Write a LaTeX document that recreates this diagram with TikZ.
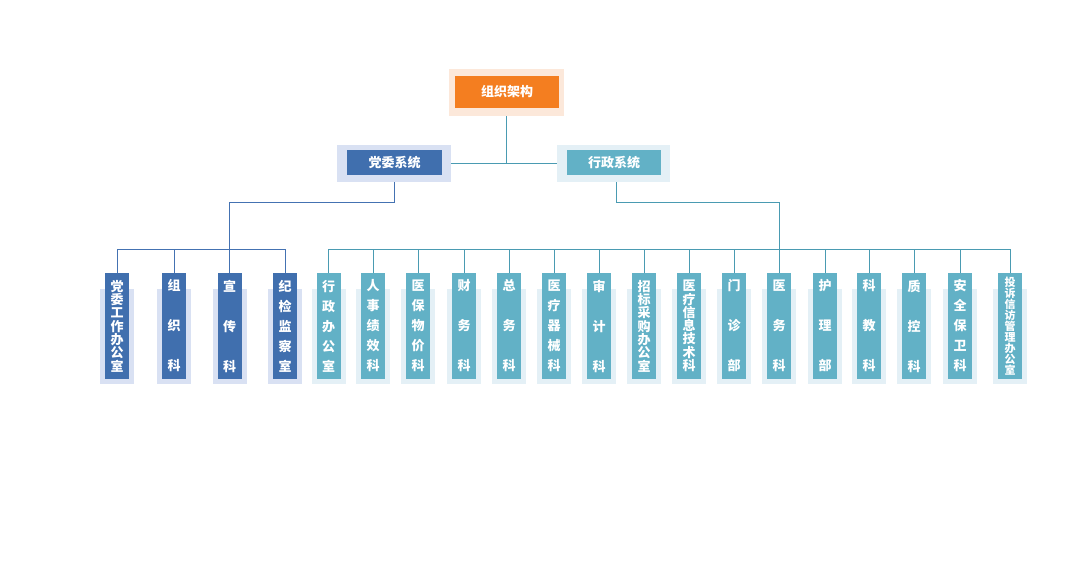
\documentclass[tikz,border=0pt]{standalone}
\usepackage{fontspec}
\newfontfamily\cjk{Noto Sans CJK SC}
\definecolor{orgA}{HTML}{F47E20}
\definecolor{orgB}{HTML}{FCE8DA}
\definecolor{blueA}{HTML}{406FAE}
\definecolor{blueB}{HTML}{D9E1F3}
\definecolor{tealA}{HTML}{62B1C6}
\definecolor{tealB}{HTML}{E4F0F6}
\definecolor{lineL}{HTML}{4472B2}
\definecolor{lineR}{HTML}{4A9BB2}
\begin{document}
\begin{tikzpicture}[x=1pt,y=-1pt,
  every node/.style={inner sep=0pt, outer sep=0pt},
  lnL/.style={draw=lineL, line width=1pt},
  lnR/.style={draw=lineR, line width=1pt},
  hdr/.style={text=white, font=\cjk\bfseries\fontsize{13}{13}\selectfont},
  leaf/.style={minimum width=24pt, minimum height=106pt, text=white, align=center},
  leafL/.style={leaf, fill=blueA},
  leafR/.style={leaf, fill=tealA},
  shL/.style={fill=blueB, minimum width=34pt, minimum height=95pt},
  shR/.style={fill=tealB, minimum width=34pt, minimum height=95pt},
  fA/.style={font=\cjk\bfseries\fontsize{13}{40}\selectfont},
  fB/.style={font=\cjk\bfseries\fontsize{13}{20}\selectfont},
  fC/.style={font=\cjk\bfseries\fontsize{13}{13.3}\selectfont},
  fD/.style={font=\cjk\bfseries\fontsize{11}{11}\selectfont}
]
\useasboundingbox (0,0) rectangle (1080,565);

% top
\node[fill=orgB, minimum width=115pt, minimum height=47pt] (topo) at (506.5,92.5) {};
\node[fill=orgA, minimum width=104pt, minimum height=32pt, hdr] (top) at (507,92) {组织架构};
% systems
\node[fill=blueB, minimum width=114pt, minimum height=37pt] (sysLo) at (394,163.5) {};
\node[fill=blueA, minimum width=95pt, minimum height=25pt, hdr] (sysL) at (394.5,162.5) {党委系统};
\node[fill=tealB, minimum width=113pt, minimum height=37pt] (sysRo) at (613.5,163.5) {};
\node[fill=tealA, minimum width=94pt, minimum height=25pt, hdr] (sysR) at (614,162.5) {行政系统};

% shadows
\foreach \x in {117,174,229.5,285} \node[shL] at (\x,336.5) {};
\foreach \x in {328.5,373,418,464,509,554,599,644,689,734,779,825,869,914,960,1010} \node[shR] at (\x,336.5) {};

% left leaves
\node[leafL, fC] (L1) at (117,326) {党\\委\\工\\作\\办\\公\\室};
\node[leafL, fA] (L2) at (174,326) {组\\织\\科};
\node[leafL, fA] (L3) at (229.5,326) {宣\\传\\科};
\node[leafL, fB] (L4) at (285,326) {纪\\检\\监\\察\\室};

% right leaves
\node[leafR, fB] (R1) at (328.5,326) {行\\政\\办\\公\\室};
\node[leafR, fB] (R2) at (373,326) {人\\事\\绩\\效\\科};
\node[leafR, fB] (R3) at (418,326) {医\\保\\物\\价\\科};
\node[leafR, fA] (R4) at (464,326) {财\\务\\科};
\node[leafR, fA] (R5) at (509,326) {总\\务\\科};
\node[leafR, fB] (R6) at (554,326) {医\\疗\\器\\械\\科};
\node[leafR, fA] (R7) at (599,326) {审\\计\\科};
\node[leafR, fC] (R8) at (644,326) {招\\标\\采\\购\\办\\公\\室};
\node[leafR, fC] (R9) at (689,326) {医\\疗\\信\\息\\技\\术\\科};
\node[leafR, fA] (R10) at (734,326) {门\\诊\\部};
\node[leafR, fA] (R11) at (779,326) {医\\务\\科};
\node[leafR, fA] (R12) at (825,326) {护\\理\\部};
\node[leafR, fA] (R13) at (869,326) {科\\教\\科};
\node[leafR, fA] (R14) at (914,326) {质\\控\\科};
\node[leafR, fB] (R15) at (960,326) {安\\全\\保\\卫\\科};
\node[leafR, fD] (R16) at (1010,326) {投\\诉\\信\\访\\管\\理\\办\\公\\室};

% connectors top
\draw[lnR] (topo.south) -- (topo.south |- sysLo.east);
\draw[lnR] (sysLo.east) -- (sysRo.west);

% left system
\draw[lnL] (sysLo.south) -- ++(0,20) -| (L3.north);
\draw[lnL] (L1.north) -- ++(0,-24) -| (L4.north);
\draw[lnL] (L2.north) -- ++(0,-24);

% right system
\draw[lnR] ([xshift=2.5pt]sysRo.south) -- ++(0,20) -| (R11.north);
\draw[lnR] (R1.north) -- ++(0,-24) -| (R16.north);
\foreach \n in {R2,R3,R4,R5,R6,R7,R8,R9,R10,R12,R13,R14,R15}
  \draw[lnR] (\n.north) -- ++(0,-24);
\end{tikzpicture}
\end{document}
